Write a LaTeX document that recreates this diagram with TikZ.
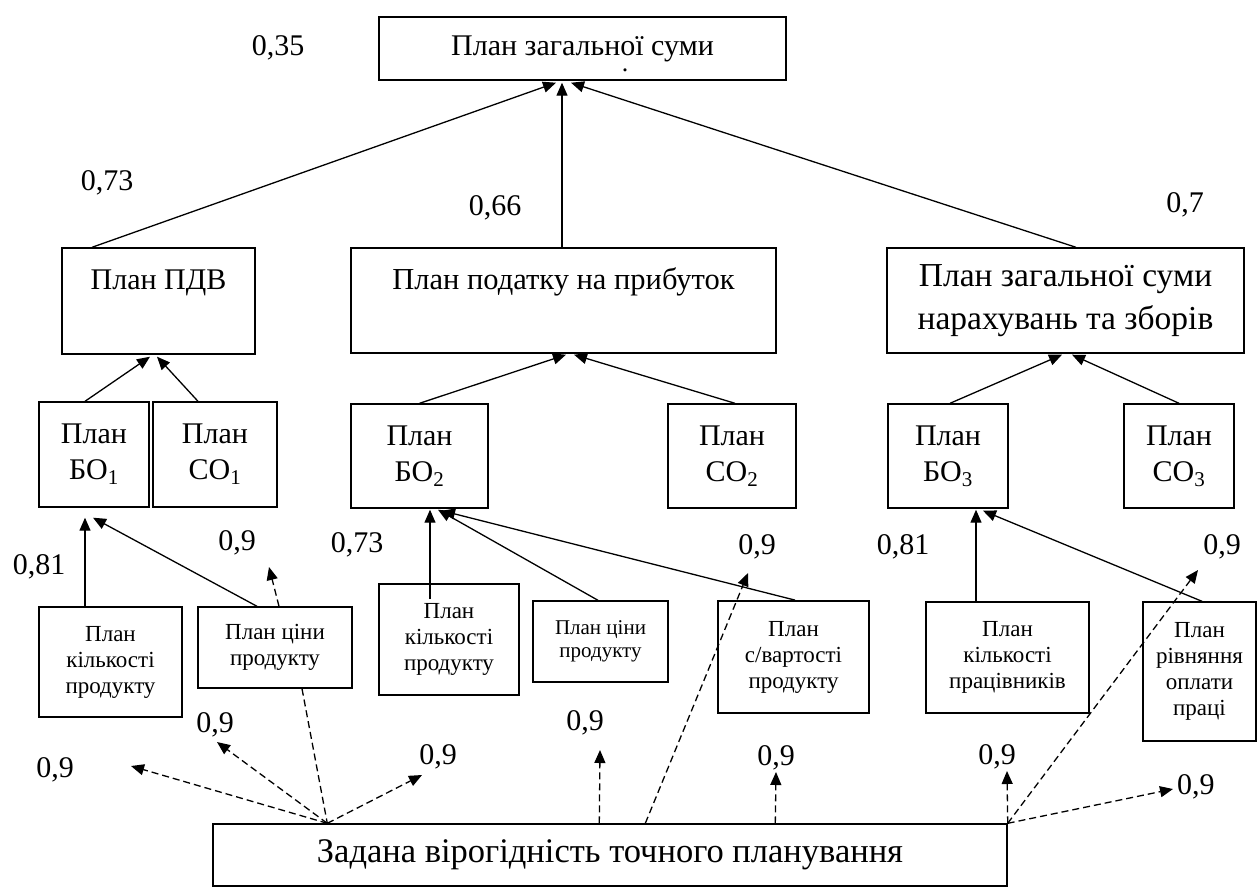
\documentclass[tikz,border=0pt]{standalone}
\usepackage{fontspec}
\setmainfont{Liberation Serif}
\usetikzlibrary{arrows.meta}
\begin{document}
\begin{tikzpicture}[x=1pt,y=-1pt,
  box/.style={draw, line width=1.4pt, inner sep=0pt, align=center},
  bigtxt/.style={font=\fontsize{30}{43}\selectfont},
  midtxt/.style={font=\fontsize{30}{36}\selectfont},
  smalltxt/.style={font=\fontsize{23}{26}\selectfont},
  tinytxt/.style={font=\fontsize{21}{23}\selectfont},
  num/.style={font=\fontsize{30}{32}\selectfont, inner sep=0pt},
  arr/.style={line width=1.3pt, -{Triangle[length=13pt,width=11pt]}},
  darr/.style={line width=1.3pt, dash pattern=on 7pt off 4pt, -{Triangle[length=13pt,width=11pt]}},
  dline/.style={line width=1.3pt, dash pattern=on 7pt off 4pt}]
\useasboundingbox (0,0) rectangle (1257,887);

% top
\node[box,bigtxt,minimum width=407pt,minimum height=63pt] (top) at (582.5,48.5) {План загальної суми};
\node[inner sep=0pt,font=\fontsize{26}{26}\selectfont] (dot) at (625,70) {.};

% second row
\node[box,bigtxt,minimum width=193pt,minimum height=106pt] (pdv) at (158.5,301) {План ПДВ\\\mbox{}};
\node[box,font=\fontsize{30.5}{43}\selectfont,minimum width=425pt,minimum height=105pt] (pod) at (563.5,300.5) {План податку на прибуток\\\mbox{}};
\node[box,font=\fontsize{33.5}{43}\selectfont,minimum width=357pt,minimum height=105pt] (nar) at (1065.5,300.5) {План загальної суми\\нарахувань та зборів};

% third row
\node[box,midtxt,minimum width=110pt,minimum height=105pt] (bo1) at (94,454.5) {План\\БО\textsubscript{1}};
\node[box,midtxt,minimum width=124pt,minimum height=105pt] (co1) at (215,454.5) {План\\СО\textsubscript{1}};
\node[box,midtxt,minimum width=137pt,minimum height=104pt] (bo2) at (419.5,456) {План\\БО\textsubscript{2}};
\node[box,midtxt,minimum width=128pt,minimum height=104pt] (co2) at (732,456) {План\\СО\textsubscript{2}};
\node[box,midtxt,minimum width=120pt,minimum height=104pt] (bo3) at (948,456) {План\\БО\textsubscript{3}};
\node[box,midtxt,minimum width=110pt,minimum height=104pt] (co3) at (1179,456) {План\\СО\textsubscript{3}};

% fourth row
\node[box,smalltxt,minimum width=143pt,minimum height=110pt] (k1) at (110.5,662) {План\\кількості\\продукту};
\node[box,smalltxt,minimum width=154pt,minimum height=81pt] (p1) at (275,647.5) {План ціни\\продукту};
\node[box,smalltxt,line width=2pt,minimum width=140pt,minimum height=111pt] (k2) at (449,639.5) {План\\кількості\\продукту};
\node[box,tinytxt,minimum width=135pt,minimum height=81pt] (p2) at (600.5,641.5) {План ціни\\продукту};
\node[box,smalltxt,line width=1.8pt,minimum width=151pt,minimum height=112pt] (s2) at (793.5,657) {План\\с/вартості\\продукту};
\node[box,smalltxt,minimum width=163pt,minimum height=111pt] (k3) at (1007.5,657.5) {План\\кількості\\працівників};
\node[box,smalltxt,minimum width=113pt,minimum height=139pt] (o3) at (1199.5,671.5) {План\\рівняння\\оплати\\праці};

% bottom
\node[box,font=\fontsize{34.5}{40}\selectfont,minimum width=794pt,minimum height=62pt] (zad) at (610,855) {Задана вірогідність точного планування};

% solid arrows: top
\draw[arr] ([xshift=-66.5pt]pdv.north) -- ([xshift=-26.5pt,yshift=-2pt]top.south);
\draw[arr] ([xshift=-1.5pt]pod.north) -- ([xshift=-20.5pt,yshift=-2pt]top.south);
\draw[arr] ([xshift=10.5pt]nar.north) -- ([xshift=-11.5pt,yshift=-2pt]top.south);

% into second row
\draw[arr] ([xshift=-9pt]bo1.north) -- ([xshift=-8.5pt,yshift=-2pt]pdv.south);
\draw[arr] ([xshift=-17pt]co1.north) -- ([xshift=-1.5pt,yshift=-2pt]pdv.south);
\draw[arr] (bo2.north) -- ([xshift=2.5pt,yshift=-1pt]pod.south);
\draw[arr] ([xshift=3pt]co2.north) -- ([xshift=10.5pt,yshift=-1pt]pod.south);
\draw[arr] ([xshift=2pt]bo3.north) -- ([xshift=-3.5pt,yshift=-1pt]nar.south);
\draw[arr] (co3.north) -- ([xshift=6.5pt,yshift=-1pt]nar.south);

% into third row
\draw[arr] ([xshift=-25.5pt]k1.north) -- ([xshift=-9pt,yshift=-10pt]bo1.south);
\draw[arr] ([xshift=-18pt]p1.north) -- ([xshift=-1pt,yshift=-10pt]bo1.south);
\draw[arr] ([xshift=-19pt,yshift=-16pt]k2.north) -- ([xshift=10.5pt,yshift=-1pt]bo2.south);
\draw[arr] ([xshift=-2.5pt]p2.north) -- ([xshift=18.5pt,yshift=-1pt]bo2.south);
\draw[arr] ([xshift=1.5pt]s2.north) -- ([xshift=22.5pt,yshift=-2pt]bo2.south);
\draw[arr] ([xshift=-31.5pt]k3.north) -- ([xshift=28pt,yshift=-1pt]bo3.south);
\draw[arr] ([xshift=2.5pt]o3.north) -- ([xshift=35pt,yshift=-2pt]bo3.south);

% dashed arrows
\coordinate (A) at ([xshift=115pt]zad.north west);
\coordinate (t1) at (131,766);
\coordinate (t2) at (217,742);
\coordinate (t3) at (422,775);
\coordinate (t4) at (269,567);
\coordinate (t5) at (600,750);
\coordinate (t6) at (748,573);
\coordinate (t7) at (776,772);
\coordinate (t8) at (1007,771);
\coordinate (t9) at (1198,570);
\coordinate (t10) at (1173,789);

\draw[darr] (A) -- (t1);
\draw[darr] (A) -- (t2);
\draw[darr] (A) -- (t3);
\draw[dline] ([xshift=27pt]p1.south) -- (A);
\draw[darr] ([xshift=4pt]p1.north) -- (t4);
\draw[darr] ([xshift=387pt]zad.north west) -- (t5);
\draw[darr] ([xshift=433pt]zad.north west) -- (t6);
\draw[darr] ([xshift=563pt]zad.north west) -- (t7);
\draw[darr] (zad.north east) -- (t8);
\draw[darr] (zad.north east) -- (t9);
\draw[darr] (zad.north east) -- (t10);

% number labels
\node[num] (n035) at (278,48) {0,35};
\node[num] (n073a) at (107,183) {0,73};
\node[num] (n066) at (495,208) {0,66};
\node[num] (n07) at (1185,205) {0,7};
\node[num] (n081a) at (39,567) {0,81};
\node[num] (n09a) at (237,543) {0,9};
\node[num] (n073b) at (357,545) {0,73};
\node[num] (n09b) at (757,547) {0,9};
\node[num] (n081b) at (903,547) {0,81};
\node[num] (n09c) at (1222,547) {0,9};
\node[num] (n09d) at (55,770) {0,9};
\node[num] (n09e) at (215,725) {0,9};
\node[num] (n09f) at (438,757) {0,9};
\node[num] (n09g) at (585,723) {0,9};
\node[num] (n09h) at (776,758) {0,9};
\node[num] (n09i) at (997,757) {0,9};
\node[num,anchor=west] (n09j) at (1177,787) {0,9};
\end{tikzpicture}
\end{document}
